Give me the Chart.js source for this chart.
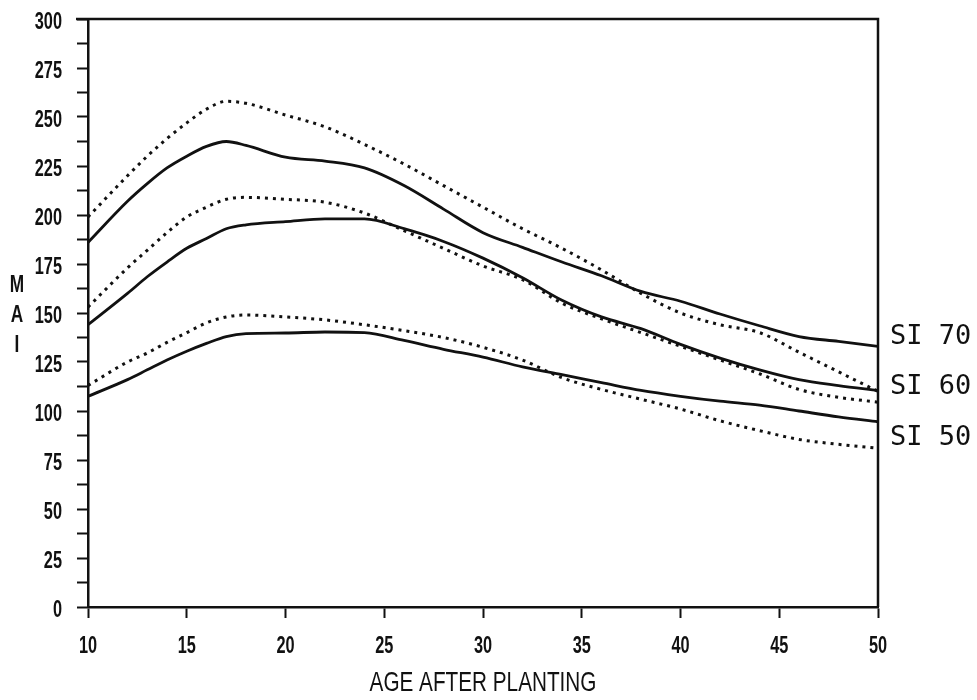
<!DOCTYPE html>
<html>
<head>
<meta charset="utf-8">
<script src="https://cdn.jsdelivr.net/npm/chart.js@4"></script>
<style>
  body { margin: 0; background: #fff; }
  #wrap { width: 977px; height: 700px; position: relative; }
</style>
</head>
<body>
<div id="wrap"><canvas id="maiChart"></canvas></div>
<script>
// ages
const ages = [10, 12, 13, 14, 15, 16, 17, 18, 20, 22, 24, 26, 28, 30, 32, 34, 36, 38, 40, 42, 44, 46, 48, 50];

// solid curves
const si70Solid = [186, 207, 216, 224, 230, 235, 237.5, 235.5, 229.5, 227.5, 224, 215, 203, 191, 183.5, 176, 169, 161, 156, 149.5, 143.5, 138, 135.5, 133];
const si60Solid = [144, 160, 168.5, 176, 183, 188, 193, 195, 196.6, 198, 198, 193, 186.5, 178, 168, 156.5, 148, 142, 134, 127, 121, 116, 113, 110.5];
const si50Solid = [107.5, 116, 121, 126, 130.5, 134.5, 138, 139.5, 139.8, 140.3, 140, 136, 131.5, 127.5, 122.5, 118.5, 114.5, 110.5, 107.5, 105, 103, 100, 97, 94.5];

// dotted curves
const si70Dotted = [199, 220, 230, 239, 247, 254, 258, 257, 251, 245, 236, 226, 215, 204, 193, 183, 172, 160, 150, 144, 140, 130, 120, 110];
const si60Dotted = [153, 173, 182, 191, 199, 204, 208, 209, 208, 206.5, 201, 192, 183, 174, 167, 155, 147, 140, 133, 126, 119, 111, 107, 104.5];
const si50Dotted = [113, 125, 129.6, 135, 140, 145, 148, 149, 148, 146.5, 144, 141, 137.5, 132.5, 126, 117, 111, 106, 101, 95, 90, 85.5, 83, 81];

const siLabels = ['SI 70', 'SI 60', 'SI 50'];
const yLetters = ['M', 'A', 'I'];
const xTitle = 'AGE AFTER PLANTING';

const sans = "'Liberation Sans', Arial, sans-serif";

function toPoints(vals) {
    return ages.map((a, i) => ({ x: a, y: vals[i] }));
}

function line(vals, dashed) {
    return {
        data: toPoints(vals),
        borderColor: '#111',
        borderWidth: dashed ? 3 : 2.8,
        borderDash: dashed ? [3, 5] : [],
        pointRadius: 0,
        cubicInterpolationMode: 'monotone',
        fill: false
    };
}

// draw text squeezed horizontally (the original lettering is a narrow plotter font)
function narrowText(ctx, text, x, y, align, font, sx) {
    ctx.save();
    ctx.font = font;
    ctx.textAlign = align;
    ctx.textBaseline = 'middle';
    ctx.scale(sx, 1);
    ctx.fillText(text, x / sx, y);
    ctx.restore();
}

// frame, tick labels, titles and SI labels
const extras = {
    id: 'extras',
    afterDraw(chart) {
        const { ctx, chartArea, scales } = chart;
        ctx.save();
        ctx.strokeStyle = '#111';
        ctx.lineWidth = 2.5;
        ctx.beginPath();
        ctx.moveTo(chartArea.left - 12, chartArea.top);
        ctx.lineTo(chartArea.right, chartArea.top);
        ctx.lineTo(chartArea.right, chartArea.bottom);
        ctx.stroke();
        ctx.fillStyle = '#111';

        scales.y.ticks.forEach((t) => {
            if (t.value % 25 !== 0) return;
            narrowText(ctx, String(t.value), 62, scales.y.getPixelForValue(t.value) + 3, 'right', 'bold 24px ' + sans, 0.68);
        });
        scales.x.ticks.forEach((t) => {
            narrowText(ctx, String(t.value), scales.x.getPixelForValue(t.value), 646, 'center', 'bold 24px ' + sans, 0.68);
        });
        narrowText(ctx, xTitle, (chartArea.left + chartArea.right) / 2, 683, 'center', '28px ' + sans, 0.74);

        yLetters.forEach((ch, i) => {
            narrowText(ctx, ch, 17, 286 + i * 30, 'center', 'bold 23px ' + sans, 0.75);
        });

        ctx.textAlign = 'left';
        ctx.textBaseline = 'middle';
        ctx.font = "27px 'DejaVu Sans Mono', monospace";
        const labelVals = [138, 112, 86];
        siLabels.forEach((t, i) => {
            ctx.fillText(t, chartArea.right + 12, scales.y.getPixelForValue(labelVals[i]));
        });
        ctx.restore();
    }
};

const ctx = document.getElementById('maiChart').getContext('2d');
new Chart(ctx, {
    type: 'line',
    data: {
        datasets: [
            line(si70Solid, false), line(si70Dotted, true),
            line(si60Solid, false), line(si60Dotted, true),
            line(si50Solid, false), line(si50Dotted, true)
        ]
    },
    options: {
        responsive: true,
        maintainAspectRatio: false,
        animation: false,
        layout: { padding: { left: 0, top: 19, right: 99, bottom: 0 } },
        plugins: { legend: { display: false }, tooltip: { enabled: false } },
        scales: {
            x: {
                type: 'linear',
                min: 10,
                max: 50,
                afterFit: (s) => { s.height = 93; },
                border: { display: true, color: '#111', width: 2.5 },
                grid: { drawOnChartArea: false, drawTicks: true, tickLength: 11, tickColor: '#111', tickWidth: 2 },
                ticks: { stepSize: 5, color: 'rgba(0,0,0,0)' }
            },
            y: {
                min: 0,
                max: 300,
                afterFit: (s) => { s.width = 88; },
                border: { display: true, color: '#111', width: 2.5 },
                grid: { drawOnChartArea: false, drawTicks: true, tickLength: 11, tickColor: '#111', tickWidth: 2 },
                ticks: {
                    stepSize: 12.5,
                    autoSkip: false,
                    color: 'rgba(0,0,0,0)',
                    callback: (v) => (v % 25 === 0 ? v : '')
                }
            }
        }
    },
    plugins: [extras]
});
</script>
</body>
</html>
